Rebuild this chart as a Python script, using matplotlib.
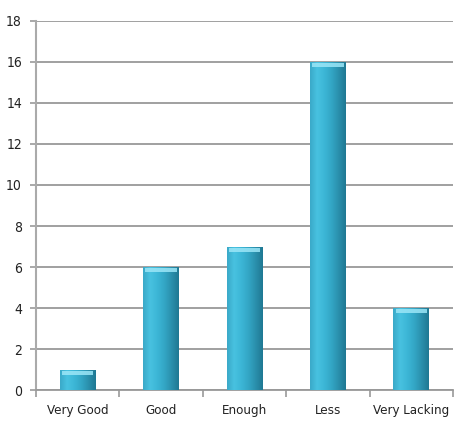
import numpy as np
import matplotlib
matplotlib.use("Agg")
import matplotlib.pyplot as plt
from matplotlib.colors import LinearSegmentedColormap

categories = ["Very Good", "Good", "Enough", "Less", "Very Lacking"]
values = [1, 6, 7, 16, 4]
yticks = [0, 2, 4, 6, 8, 10, 12, 14, 16, 18]

plt.rcParams['font.family'] = ['DejaVu Sans']
plt.rcParams['font.stretch'] = 'condensed'

fig = plt.figure(figsize=(4.54, 4.25), dpi=100)
ax = fig.add_axes([0.079, 0.082, 0.919, 0.869])

x = np.arange(len(categories))
width = 0.43
bars = ax.bar(x, values, width=width, color="#35AFCF", edgecolor="none", zorder=3)

cmap = LinearSegmentedColormap.from_list(
    "bar", ["#3AA9C8", "#48C2E0", "#3CB6D6", "#33A6C5", "#2A8FAC", "#1F7892"])
grad = np.linspace(0, 1, 256).reshape(1, -1)
for b in bars:
    x0, w, h = b.get_x(), b.get_width(), b.get_height()
    im = ax.imshow(grad, extent=[x0, x0 + w, 0, h], aspect="auto", cmap=cmap,
                   zorder=3, interpolation="bicubic")
    im.set_clip_path(b)
    cap_h = 0.2
    ax.bar(b.get_x() + w / 2, cap_h, width=w * 0.88, bottom=h - cap_h - 0.05,
           color="#9BE6F7", edgecolor="none", zorder=4, alpha=0.85)

ax.set_xlim(-0.5, len(categories) - 0.5)
ax.set_ylim(0, 18)
ax.set_yticks(yticks)
ax.set_xticks(x)
ax.set_xticklabels(categories, fontsize=9.5)
ax.tick_params(axis="x", length=0, pad=10)
ax.set_xticks(np.arange(-0.5, len(categories)), minor=True)
ax.tick_params(axis="x", which="minor", length=5, color="#999999", width=1.2)
ax.tick_params(axis="y", length=4, color="#999999", width=1.2, labelsize=10, pad=6)
for lbl in ax.get_yticklabels() + ax.get_xticklabels():
    lbl.set_color("#222222")

ax.grid(axis="y", color="#999999", linewidth=1.3, zorder=0)
ax.set_axisbelow(True)
for s in ["top", "right"]:
    ax.spines[s].set_visible(False)
ax.spines["left"].set_color("#AAAAAA")
ax.spines["left"].set_linewidth(1.5)
ax.spines["bottom"].set_color("#999999")
ax.spines["bottom"].set_linewidth(1.3)

fig.savefig("out.png", dpi=100)
